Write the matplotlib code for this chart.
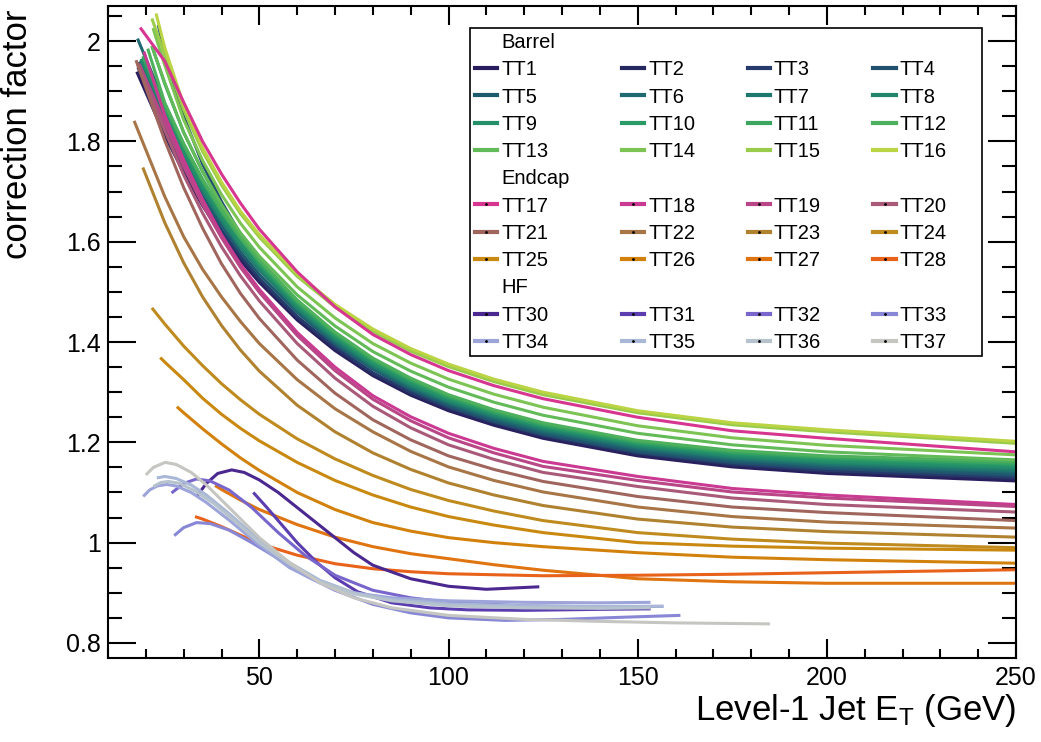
import numpy as np
import matplotlib
matplotlib.use("Agg")
import matplotlib.pyplot as plt
from matplotlib.lines import Line2D
from matplotlib.patches import Rectangle
from matplotlib.ticker import MultipleLocator, FuncFormatter

plt.rcParams["font.family"] = ["Liberation Sans", "DejaVu Sans"]
plt.rcParams["mathtext.default"] = "regular"

# common E_T grid for barrel and endcap curves
et_grid = [25, 30, 35, 40, 45, 50, 60, 70, 80, 90, 100, 112, 125, 150, 175, 200, 250]

# ---- Barrel TT1..TT16
barrel_start_x = [17.6, 17.9, 18.2, 23.3, 18.0, 17.8, 18.6, 19.5, 18.8, 21.6, 19.2, 20.5,
                  21.6, 21.9, 21.6, 22.7]
barrel_start_y = [1.939, 1.948, 1.952, 2.032, 1.958, 2.005, 1.962, 1.975, 1.965, 1.990, 1.970, 1.985,
                  1.990, 2.026, 2.045, 2.055]
barrel_y = [
    [1.812, 1.738, 1.672, 1.614, 1.563, 1.519, 1.444, 1.383, 1.333, 1.294, 1.263, 1.234, 1.208, 1.173, 1.151, 1.138, 1.123],
    [1.818, 1.743, 1.677, 1.619, 1.567, 1.523, 1.448, 1.386, 1.336, 1.297, 1.266, 1.237, 1.211, 1.176, 1.154, 1.141, 1.127],
    [1.824, 1.749, 1.682, 1.623, 1.572, 1.527, 1.451, 1.390, 1.339, 1.300, 1.269, 1.240, 1.214, 1.179, 1.157, 1.144, 1.130],
    [1.975, 1.850, 1.755, 1.680, 1.615, 1.560, 1.470, 1.400, 1.347, 1.305, 1.272, 1.242, 1.216, 1.181, 1.160, 1.148, 1.134],
    [1.836, 1.759, 1.691, 1.632, 1.580, 1.535, 1.459, 1.396, 1.346, 1.306, 1.275, 1.245, 1.219, 1.184, 1.163, 1.151, 1.137],
    [1.875, 1.790, 1.718, 1.655, 1.598, 1.550, 1.462, 1.400, 1.349, 1.309, 1.278, 1.248, 1.222, 1.187, 1.166, 1.154, 1.141],
    [1.847, 1.770, 1.701, 1.641, 1.589, 1.544, 1.466, 1.403, 1.352, 1.312, 1.280, 1.251, 1.225, 1.190, 1.169, 1.157, 1.144],
    [1.853, 1.775, 1.706, 1.646, 1.593, 1.548, 1.469, 1.407, 1.355, 1.315, 1.283, 1.254, 1.228, 1.193, 1.172, 1.160, 1.148],
    [1.859, 1.780, 1.711, 1.650, 1.597, 1.552, 1.473, 1.410, 1.358, 1.318, 1.286, 1.257, 1.231, 1.196, 1.175, 1.163, 1.151],
    [1.915, 1.818, 1.740, 1.672, 1.612, 1.556, 1.477, 1.413, 1.362, 1.322, 1.289, 1.259, 1.233, 1.198, 1.178, 1.167, 1.155],
    [1.871, 1.791, 1.720, 1.659, 1.606, 1.560, 1.480, 1.417, 1.365, 1.325, 1.292, 1.262, 1.236, 1.201, 1.181, 1.170, 1.158],
    [1.877, 1.796, 1.725, 1.664, 1.610, 1.564, 1.484, 1.420, 1.368, 1.328, 1.295, 1.265, 1.239, 1.204, 1.184, 1.173, 1.162],
    [1.917, 1.818, 1.740, 1.674, 1.618, 1.571, 1.494, 1.432, 1.381, 1.342, 1.310, 1.280, 1.254, 1.218, 1.195, 1.181, 1.165],
    [1.952, 1.843, 1.762, 1.694, 1.637, 1.589, 1.510, 1.448, 1.397, 1.358, 1.326, 1.296, 1.270, 1.233, 1.209, 1.194, 1.175],
    [1.972, 1.863, 1.780, 1.713, 1.656, 1.609, 1.531, 1.470, 1.421, 1.382, 1.351, 1.321, 1.295, 1.259, 1.235, 1.221, 1.198],
    [1.987, 1.873, 1.787, 1.719, 1.661, 1.614, 1.536, 1.475, 1.426, 1.387, 1.356, 1.326, 1.300, 1.263, 1.239, 1.225, 1.202],
]
barrel_colors = ["#2a1d5e", "#25275f", "#263b6b", "#22506f", "#1f5b6f", "#1e6a70", "#1f786e", "#21866c",
                 "#24906a", "#2a9b66", "#3aa660", "#4db05c", "#62ba58", "#7dc454", "#9acc4c", "#bad443"]

# ---- Endcap TT17..TT28 (nan = below the fit range)
nan = np.nan
endcap_start_x = [18.5, 19.5, 18.2, 17.8, 17.4, 16.9, 19.2, 21.6, 23.8, 28.2, 38.3, 33.0]
endcap_start_y = [2.027, 1.979, 1.955, 1.955, 1.962, 1.841, 1.748, 1.468, 1.369, 1.271, 1.114, 1.052]
endcap_y = [
    [1.960, 1.878, 1.800, 1.735, 1.677, 1.625, 1.540, 1.470, 1.415, 1.375, 1.343, 1.313, 1.287, 1.250, 1.223, 1.208, 1.181],
    [1.852, 1.763, 1.684, 1.614, 1.555, 1.505, 1.419, 1.350, 1.293, 1.251, 1.218, 1.188, 1.162, 1.132, 1.108, 1.095, 1.076],
    [1.837, 1.750, 1.674, 1.608, 1.549, 1.499, 1.413, 1.343, 1.286, 1.243, 1.209, 1.179, 1.152, 1.124, 1.101, 1.089, 1.072],
    [1.822, 1.733, 1.657, 1.590, 1.532, 1.482, 1.397, 1.328, 1.272, 1.229, 1.195, 1.166, 1.140, 1.112, 1.089, 1.076, 1.061],
    [1.802, 1.708, 1.627, 1.556, 1.497, 1.447, 1.364, 1.298, 1.245, 1.205, 1.173, 1.146, 1.122, 1.092, 1.071, 1.060, 1.044],
    [1.690, 1.610, 1.545, 1.490, 1.441, 1.397, 1.325, 1.267, 1.221, 1.182, 1.151, 1.124, 1.101, 1.071, 1.052, 1.041, 1.029],
    [1.638, 1.558, 1.490, 1.433, 1.384, 1.342, 1.274, 1.221, 1.179, 1.146, 1.119, 1.095, 1.074, 1.047, 1.031, 1.022, 1.011],
    [1.436, 1.392, 1.353, 1.317, 1.285, 1.256, 1.207, 1.167, 1.134, 1.106, 1.084, 1.063, 1.044, 1.020, 1.007, 0.999, 0.990],
    [1.360, 1.325, 1.288, 1.256, 1.228, 1.203, 1.160, 1.124, 1.095, 1.071, 1.052, 1.035, 1.020, 1.000, 0.993, 0.989, 0.985],
    [nan, 1.259, 1.227, 1.197, 1.169, 1.144, 1.100, 1.066, 1.040, 1.023, 1.010, 1.000, 0.992, 0.980, 0.971, 0.966, 0.959],
    [nan, nan, nan, 1.106, 1.085, 1.066, 1.036, 1.011, 0.992, 0.978, 0.968, 0.956, 0.945, 0.928, 0.922, 0.919, 0.919],
    [nan, nan, 1.047, 1.032, 1.015, 0.998, 0.975, 0.958, 0.948, 0.942, 0.938, 0.936, 0.934, 0.935, 0.937, 0.940, 0.946],
]
endcap_colors = ["#d6368f", "#cb3a92", "#b94686", "#a85a78", "#a0665e", "#a87546", "#b08230", "#bf8a1e",
                 "#c98910", "#d2820c", "#df7410", "#e8621a"]

# ---- HF TT30..TT37
hf_x = [
    [33.6, 36, 39, 42.7, 46, 50, 55, 60, 65, 70, 75, 80, 90, 100, 110, 124],
    [48.4, 52, 56, 60, 65, 70, 76, 85, 95, 105, 120, 140, 153.4],
    [26.8, 30, 33.4, 37, 42, 48, 55, 62, 70, 80, 90, 100, 120, 140, 156.8],
    [27.5, 30, 33.4, 37, 42, 48, 55, 62, 70, 80, 90, 100, 115, 130, 145, 161.3],
    [19.3, 21, 23, 25.5, 28, 32, 36, 42, 50, 58, 66, 75, 85, 100, 120, 140, 153.4],
    [22.9, 25, 28, 32, 36, 42, 50, 58, 66, 75, 85, 100, 120, 140, 156.8],
    [22, 24, 26, 29, 33, 38, 44, 50, 58, 66, 75, 85, 100, 120, 140, 153.4],
    [20, 22, 25.1, 28, 32, 36, 42, 50, 58, 66, 75, 85, 100, 120, 140, 160, 185],
]
hf_y = [
    [1.094, 1.118, 1.138, 1.145, 1.140, 1.125, 1.100, 1.070, 1.040, 1.010, 0.980, 0.955, 0.928, 0.913, 0.907, 0.912],
    [1.100, 1.070, 1.035, 1.000, 0.962, 0.930, 0.902, 0.880, 0.870, 0.866, 0.865, 0.867, 0.868],
    [1.099, 1.118, 1.127, 1.123, 1.105, 1.070, 1.020, 0.975, 0.935, 0.905, 0.890, 0.881, 0.874, 0.872, 0.873],
    [1.014, 1.030, 1.040, 1.038, 1.025, 1.000, 0.968, 0.935, 0.905, 0.877, 0.860, 0.850, 0.845, 0.847, 0.851, 0.855],
    [1.092, 1.105, 1.113, 1.116, 1.113, 1.100, 1.080, 1.045, 0.995, 0.950, 0.920, 0.900, 0.890, 0.884, 0.881, 0.880, 0.881],
    [1.129, 1.132, 1.128, 1.115, 1.095, 1.058, 1.005, 0.960, 0.925, 0.900, 0.887, 0.878, 0.874, 0.873, 0.873],
    [1.112, 1.120, 1.122, 1.118, 1.103, 1.078, 1.040, 1.000, 0.957, 0.922, 0.898, 0.884, 0.874, 0.870, 0.869, 0.870],
    [1.135, 1.150, 1.160, 1.156, 1.140, 1.115, 1.070, 1.010, 0.960, 0.920, 0.890, 0.870, 0.855, 0.847, 0.843, 0.840, 0.838],
]
hf_colors = ["#4b2790", "#5c3db0", "#7866cc", "#8787d6", "#9ca4da", "#a9b8d6", "#b6c3cc", "#c5c5c1"]

barrel_labels = ["TT%d" % i for i in range(1, 17)]
endcap_labels = ["TT%d" % i for i in range(17, 29)]
hf_labels = ["TT%d" % i for i in range(30, 38)]

fig = plt.figure(figsize=(10.41, 7.42), dpi=100)
ax = fig.add_axes([0.10375, 0.11321, 0.87224, 0.87871])

lw = 2.2
handles = {}
for lab, x0, y0, ys, c in zip(barrel_labels, barrel_start_x, barrel_start_y, barrel_y, barrel_colors):
    ax.plot([x0] + et_grid, [y0] + ys, color=c, lw=lw, solid_capstyle="butt")
    handles[lab] = Line2D([], [], color=c, lw=3)
for lab, x0, y0, ys, c in zip(endcap_labels, endcap_start_x, endcap_start_y, endcap_y, endcap_colors):
    xs = np.array([x0] + et_grid, dtype=float)
    yv = np.array([y0] + ys, dtype=float)
    ok = ~np.isnan(yv)
    ax.plot(xs[ok], yv[ok], color=c, lw=lw, solid_capstyle="butt")
    handles[lab] = Line2D([], [], color=c, lw=3, marker=".", markersize=2, mfc="k", mec="k")
for lab, xs, ys, c in zip(hf_labels, hf_x, hf_y, hf_colors):
    ax.plot(xs, ys, color=c, lw=lw, solid_capstyle="butt")
    handles[lab] = Line2D([], [], color=c, lw=3, marker=".", markersize=2, mfc="k", mec="k")

ax.set_xlim(10, 250)
ax.set_ylim(0.77, 2.07)

# axis styling
for s in ax.spines.values():
    s.set_linewidth(1.5)
ax.xaxis.set_major_locator(MultipleLocator(50))
ax.xaxis.set_minor_locator(MultipleLocator(10))
ax.yaxis.set_major_locator(MultipleLocator(0.2))
ax.yaxis.set_minor_locator(MultipleLocator(0.05))
ax.yaxis.set_major_formatter(FuncFormatter(lambda v, p: "%g" % round(v, 3)))
ax.tick_params(which="both", direction="in", top=True, right=True, width=1.5, labelsize=18)
ax.tick_params(axis="x", which="major", length=13.5, pad=6)
ax.tick_params(axis="x", which="minor", length=6.5)
ax.tick_params(axis="y", which="major", length=20, pad=5)
ax.tick_params(axis="y", which="minor", length=10)

ax.set_xlabel("Level-1 Jet E$_T$ (GeV)", fontsize=25, loc="right")
ax.xaxis.set_label_coords(1.0, -0.052)
ax.set_ylabel("correction factor", fontsize=25, loc="top")
ax.yaxis.set_label_coords(-0.082, 0.994)

# legend box drawn as a plain white rectangle, entries laid out row by row
ax.add_patch(Rectangle((0.3987, 0.4632), 0.5637, 0.5031, transform=ax.transAxes,
                       facecolor="white", edgecolor="black", lw=1.2, zorder=4))
blank = Line2D([], [], color="none")
rows = [["Barrel", None, None, None]]
rows += [barrel_labels[i:i + 4] for i in range(0, 16, 4)]
rows += [["Endcap", None, None, None]]
rows += [endcap_labels[i:i + 4] for i in range(0, 12, 4)]
rows += [["HF", None, None, None]]
rows += [hf_labels[i:i + 4] for i in range(0, 8, 4)]
leg_h, leg_l = [], []
for col in range(4):
    for r in rows:
        name = r[col]
        if name is None:
            leg_h.append(blank)
            leg_l.append(" ")
        elif name in handles:
            leg_h.append(handles[name])
            leg_l.append(name)
        else:
            leg_h.append(blank)
            leg_l.append(name)

leg = ax.legend(leg_h, leg_l, ncol=4, loc="upper left", bbox_to_anchor=(0.3987, 0.9663),
                fontsize=14.5, frameon=False, handlelength=1.1, handletextpad=0.2,
                columnspacing=2.6, labelspacing=0.41, borderpad=0.25, borderaxespad=0,
                numpoints=1)
leg.set_zorder(5)

fig.savefig("out.png", dpi=100)
